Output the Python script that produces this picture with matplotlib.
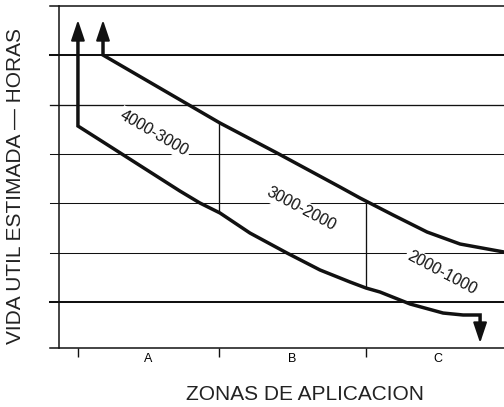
import matplotlib
matplotlib.use("Agg")
import matplotlib.pyplot as plt

plt.rcParams['font.family'] = ['Liberation Sans', 'DejaVu Sans']

# zone boundaries on x (A | B | C) and labels
zone_edges = [0.0, 0.98, 2.0]
zone_labels = ['A', 'B', 'C']
zone_centres = [0.49, 1.49, 2.5]

# horizontal reference levels (unlabelled in the original)
levels = [0.067, 1, 2, 3, 4, 5, 6, 7.0]
level_widths = [1.1, 1.45, 0.75, 0.75, 0.75, 0.95, 1.45, 1.1]

# upper curve (starts with a vertical arrow, runs off the right edge)
upper_x = [0.174, 0.174, 0.986, 1.382, 1.819, 1.958, 2.188, 2.424, 2.653, 2.958, 3.139]
upper_y = [6.37, 6.006, 4.628, 4.020, 3.331, 3.108, 2.763, 2.418, 2.175, 2.013, 1.91]

# lower curve (vertical arrow up at the start, arrow down at the end)
lower_x = [0.0, 0.0, 0.153, 0.708, 0.847, 0.986, 1.194, 1.451, 1.681, 1.889, 2.0,
           2.097, 2.306, 2.535, 2.674, 2.792, 2.792]
lower_y = [6.37, 4.567, 4.283, 3.249, 3.006, 2.804, 2.398, 1.993, 1.648, 1.405, 1.283,
           1.202, 0.959, 0.776, 0.736, 0.736, 0.49]

# arrowheads: (x, base y, tip y)
arrows = [(0.0, 6.37, 6.716), (0.174, 6.37, 6.716), (2.792, 0.49, 0.168)]

# connecting verticals between the curves
links_x = [0.98, 2.0]
links_top = [4.64, 3.04]
links_bottom = [2.81, 1.283]

# band labels
band_text = ['4000-3000', '3000-2000', '2000-1000']
band_x = [0.531, 1.547, 2.526]
band_y = [4.415, 2.885, 1.581]
band_rot = [-30, -28, -28]

ink = '#111111'

fig = plt.figure(figsize=(5.04, 4.07), dpi=100)
ax = fig.add_axes([50 / 504, 1 - 348 / 407, 454 / 504, 342 / 407])
ax.set_xlim(-0.194, 2.958)
ax.set_ylim(0.067, 7.0)
for s in ax.spines.values():
    s.set_visible(False)

for lv, lw in zip(levels, level_widths):
    ax.plot([-0.194, 3.2], [lv, lv], color=ink, lw=lw, clip_on=False, zorder=1)
ax.plot([-0.132, -0.132], [levels[0], levels[-1]], color=ink, lw=1.1, clip_on=False, zorder=1)

ax.vlines(links_x, links_bottom, links_top, color=ink, lw=0.95, zorder=2)

ax.plot(upper_x, upper_y, color=ink, lw=2.5, solid_joinstyle='miter', clip_on=False, zorder=3)
ax.plot(lower_x, lower_y, color=ink, lw=2.5, solid_joinstyle='miter', clip_on=False, zorder=3)
for x, y0, y1 in arrows:
    ax.annotate('', xy=(x, y1), xytext=(x, y0), annotation_clip=False,
                arrowprops=dict(arrowstyle='-|>,head_length=1.25,head_width=0.42',
                                mutation_scale=10, lw=1.5, color=ink,
                                shrinkA=0, shrinkB=0), zorder=3)

for t, x, y, r in zip(band_text, band_x, band_y, band_rot):
    ax.text(x, y, t, rotation=r, ha='center', va='center', fontsize=11.5, color=ink,
            bbox=dict(fc='white', ec='none', pad=1.5), zorder=2.5)

ax.set_xticks(zone_edges)
ax.set_xticklabels([])
ax.set_xticks(zone_centres, minor=True)
ax.set_xticklabels(zone_labels, minor=True, fontsize=9)
ax.tick_params(axis='x', which='major', direction='out', length=6.5, width=1, color=ink)
ax.tick_params(axis='x', which='minor', length=0, pad=3.3)
ax.set_yticks([])

fig.text(305 / 504, 1 - 400 / 407, 'ZONAS DE APLICACION', ha='center', va='baseline',
         fontsize=15, color='#222222')
fig.text(16 / 504, 1 - 186 / 407, 'VIDA UTIL ESTIMADA — HORAS', rotation=90,
         ha='center', va='center', fontsize=15, color='#222222')

fig.savefig('out.png', dpi=100)
